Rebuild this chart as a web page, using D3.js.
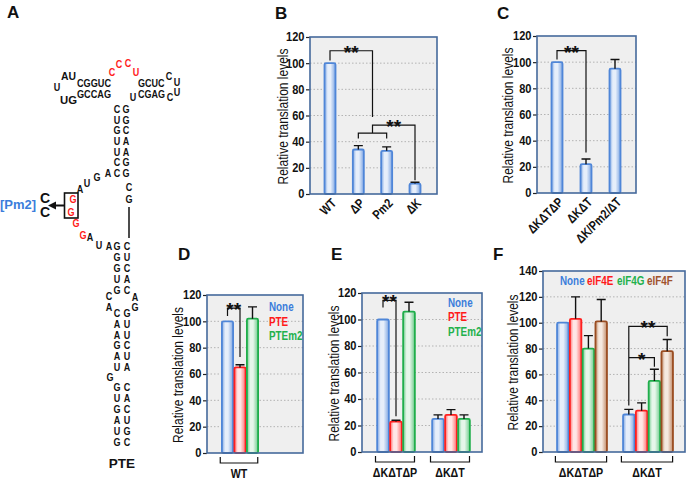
<!DOCTYPE html>
<html><head><meta charset="utf-8">
<script src="https://cdn.jsdelivr.net/npm/d3@7"></script>
<style>
body{margin:0;background:#fff}
svg{display:block}
text{font-family:"Liberation Sans",Arial,sans-serif;fill:#111}
</style>
</head><body>
<svg id="c" width="688" height="481"></svg>
<script>
// ---------------- data ----------------
const bCats = ["WT", "ΔP", "Pm2", "ΔK"];
const bVals = [100, 34, 33, 8];
const bErr  = [0, 3, 3, 1];

const cCats = ["ΔKΔTΔP", "ΔKΔT", "ΔK/Pm2/ΔT"];
const cVals = [100, 22, 95];
const cErr  = [0, 4, 7];

const dGroups = ["WT"];
const dSeries = ["None", "PTE", "PTEm2"];
const dVals = [[100, 65, 102]];
const dErr  = [[0, 2, 9]];

const eGroups = ["ΔKΔTΔP", "ΔKΔT"];
const eSeries = ["None", "PTE", "PTEm2"];
const eVals = [[100, 23, 106], [25, 28, 25]];
const eErr  = [[0, 1, 7], [3, 4, 3]];

const fGroups = ["ΔKΔTΔP", "ΔKΔT"];
const fSeries = ["None", "eIF4E", "eIF4G", "eIF4F"];
const fVals = [[100, 103, 80, 101], [29, 32, 55, 78]];
const fErr  = [[0, 17, 10, 17], [4, 6, 9, 9]];

const ticks120 = [0, 20, 40, 60, 80, 100, 120];
const ticks140 = [0, 20, 40, 60, 80, 100, 120, 140];
const yTitle = "Relative translation levels";

// ---------------- styles ----------------
const pal = {
  blue:  {stroke:"#4f86d8", edge:"#7ea6e3", mid:"#e6eefa", text:"#3b7ddb"},
  red:   {stroke:"#ff1f1f", edge:"#ff6f6f", mid:"#ffe6e6", text:"#ff1a1a"},
  green: {stroke:"#1fae4b", edge:"#6fcb8c", mid:"#e6f6ea", text:"#22b14c"},
  brown: {stroke:"#9a4d22", edge:"#c08a68", mid:"#f5e9e0", text:"#a0522d"}
};
const seriesCol = {None:"blue", PTE:"red", PTEm2:"green", eIF4E:"red", eIF4G:"green", eIF4F:"brown"};

const svg = d3.select("#c");
const defs = svg.append("defs");
Object.entries(pal).forEach(([k,c])=>{
  const lg = defs.append("linearGradient").attr("id","g_"+k).attr("x1",0).attr("x2",1).attr("y1",0).attr("y2",0);
  [[0,c.edge],[0.3,c.mid],[0.55,c.mid],[1,c.edge]].forEach(([o,col])=>lg.append("stop").attr("offset",o).attr("stop-color",col));
});

function label(x,y,t){
  svg.append("text").attr("x",x).attr("y",y).attr("font-size",17).attr("font-weight","bold").text(t);
}

function frame(o){
  const y = d3.scaleLinear().domain([0,o.max]).range([o.y0,o.yTop]);
  const g = svg.append("g");
  g.append("rect").attr("x",o.x0).attr("y",o.yTop).attr("width",o.x1-o.x0).attr("height",o.y0-o.yTop).attr("fill","#efefef");
  g.selectAll("line.grid").data(o.ticks.filter(t=>t>0&&t<o.max)).join("line")
    .attr("x1",o.x0).attr("x2",o.x1).attr("y1",d=>y(d)).attr("y2",d=>y(d))
    .attr("stroke","#b3b3b3").attr("stroke-width",1).attr("stroke-dasharray","1.5,2");
  const ax = g.append("g").attr("transform",`translate(${o.x0},0)`)
    .call(d3.axisLeft(y).tickValues(o.ticks).tickSize(4).tickPadding(1.5));
  ax.select(".domain").remove();
  ax.selectAll(".tick line").attr("stroke","#222").attr("stroke-width",1.2);
  ax.selectAll(".tick text").attr("font-size",12).attr("font-weight","bold").attr("fill","#111")
    .attr("class","t").style("font-family","'Liberation Sans',Arial,sans-serif");
  svg.append("text").attr("class","yt").attr("transform",`translate(${o.labelX},${(o.y0+o.yTop)/2 + 1}) rotate(-90)`)
    .attr("text-anchor","middle").attr("dominant-baseline","central").attr("font-size",14).text(yTitle);
  return {g,y};
}
function border(o){
  svg.append("rect").attr("x",o.x0).attr("y",o.yTop).attr("width",o.x1-o.x0).attr("height",o.y0-o.yTop)
    .attr("fill","none").attr("stroke","#45699c").attr("stroke-width",1.6);
}
function bar(g,y,cx,w,v,e,col,y0){
  const c = pal[col];
  g.append("rect").attr("x",cx-w/2).attr("y",y(v)).attr("width",w).attr("height",y0-y(v))
    .attr("rx",1.5).attr("fill",`url(#g_${col})`).attr("stroke",c.stroke).attr("stroke-width",1.8);
  if(e>0){
    g.append("path").attr("d",`M${cx},${y(v)}V${y(v+e)}M${cx-4.5},${y(v+e)}H${cx+4.5}`)
      .attr("stroke","#111").attr("stroke-width",1.4).attr("fill","none");
  }
}
function bracket(d){
  svg.append("path").attr("d",d).attr("fill","none").attr("stroke","#111").attr("stroke-width",1.2);
}
function stars(x,ypx,s){
  svg.append("text").attr("x",x).attr("y",ypx+8).attr("text-anchor","middle").attr("font-size",19)
    .attr("font-weight","bold").text(s);
}

// ---------------- Panel B ----------------
label(275,19,"B");
const oB = {x0:310,x1:437,yTop:37,y0:194,max:120,ticks:ticks120,labelX:283};
const fB = frame(oB);
const xB = d3.scalePoint().domain(bCats).range([330,415]);
bCats.forEach((c,i)=>bar(fB.g,fB.y,xB(c),11,bVals[i],bErr[i],"blue",oB.y0));
border(oB);
bCats.forEach(c=>{
  svg.append("text").attr("class","n").attr("text-anchor","end").attr("font-size",13).attr("font-weight","bold")
    .attr("transform",`translate(${xB(c)+7},${oB.y0+10}) rotate(-45)`).text(c);
});
{
  const y=fB.y, mid=(xB("ΔP")+xB("Pm2"))/2;
  bracket(`M${xB("WT")},${y(102)}V${y(109.5)}H${mid}V${y(58.8)}`);
  bracket(`M${xB("ΔP")},${y(42.5)}V${y(46.6)}H${xB("Pm2")}V${y(42.5)}M${mid},${y(46.6)}V${y(52.7)}H${xB("ΔK")}V${y(10.5)}`);
  stars((xB("WT")+mid)/2,y(109.5),"**");
  stars((mid+xB("ΔK"))/2,y(52.7),"**");
}

// ---------------- Panel C ----------------
label(497,19,"C");
const oC = {x0:537,x1:636,yTop:36,y0:193,max:120,ticks:ticks120,labelX:508};
const fC = frame(oC);
const xC = d3.scalePoint().domain(cCats).range([557,615]);
cCats.forEach((c,i)=>bar(fC.g,fC.y,xC(c),11,cVals[i],cErr[i],"blue",oC.y0));
border(oC);
cCats.forEach(c=>{
  svg.append("text").attr("class","n").attr("text-anchor","end").attr("font-size",13).attr("font-weight","bold")
    .attr("transform",`translate(${xC(c)+7},${oC.y0+10}) rotate(-45)`).text(c);
});
{
  const y=fC.y;
  bracket(`M${xC("ΔKΔTΔP")},${y(102)}V${y(108.8)}H${xC("ΔKΔT")}V${y(31)}`);
  stars((xC("ΔKΔTΔP")+xC("ΔKΔT"))/2,y(108.8),"**");
}

// ---------------- grouped panels ----------------
function grouped(o,groups,series,vals,errs,gRange,step){
  const f = frame(o);
  const xg = d3.scalePoint().domain(groups).range(gRange);
  const xs = d3.scaleBand().domain(series).range([-step*series.length/2, step*series.length/2]);
  groups.forEach((gname,gi)=>{
    series.forEach((s,si)=>{
      const cx = xg(gname)+xs(s)+xs.bandwidth()/2;
      bar(f.g,f.y,cx,step-1.3,vals[gi][si],errs[gi][si],seriesCol[s],o.y0);
    });
  });
  border(o);
  groups.forEach(gname=>{
    const a = xg(gname)+xs.range()[0]-1, b = xg(gname)+xs.range()[1]-1;
    bracket(`M${a},${o.y0+4}V${o.y0+10}H${b}V${o.y0+4}`);
    svg.append("text").attr("class","n").attr("x",(a+b)/2).attr("y",o.y0+20).attr("text-anchor","middle")
      .attr("dominant-baseline","central").attr("font-size",13).attr("font-weight","bold").text(gname);
  });
  const cx = (g,s)=>xg(g)+xs(s)+xs.bandwidth()/2;
  return {f,cx};
}
function legendCol(x,y0,dy,series){
  series.forEach((s,i)=>svg.append("text").attr("class","n").attr("x",x).attr("y",y0+i*dy).attr("dominant-baseline","central")
    .attr("font-size",12).attr("font-weight","bold").style("fill",pal[seriesCol[s]].text).text(s));
}

// Panel D
label(178,260,"D");
const oD = {x0:207,x1:303,yTop:295,y0:453,max:120,ticks:ticks120,labelX:178};
const D = grouped(oD,dGroups,dSeries,dVals,dErr,[240,240],12.5);
legendCol(269,307,14.5,dSeries);
{
  const y=D.f.y, a=D.cx("WT","None"), b=D.cx("WT","PTE");
  bracket(`M${a},${y(104)}V${y(110)}H${b}V${y(73)}`);
  stars((a+b)/2,y(110),"**");
}

// Panel E
label(331,260,"E");
const oE = {x0:362,x1:482,yTop:293,y0:452,max:120,ticks:ticks120,labelX:334};
const E = grouped(oE,eGroups,eSeries,eVals,eErr,[396,451],13);
legendCol(448,302.5,14.5,eSeries);
{
  const y=E.f.y, a=E.cx("ΔKΔTΔP","None"), b=E.cx("ΔKΔTΔP","PTE");
  bracket(`M${a},${y(109)}V${y(114.5)}H${b}V${y(27)}`);
  stars((a+b)/2,y(114.5),"**");
}

// Panel F
label(493,260,"F");
const oF = {x0:543,x1:685,yTop:271,y0:452,max:140,ticks:ticks140,labelX:513};
const F = grouped(oF,fGroups,fSeries,fVals,fErr,[582,648],12.8);
[[560,"None"],[587,"eIF4E"],[617,"eIF4G"],[647,"eIF4F"]].forEach(([x,s])=>
  svg.append("text").attr("class","n").attr("x",x).attr("y",281).attr("dominant-baseline","central")
    .attr("font-size",12).attr("font-weight","bold").style("fill",pal[seriesCol[s]].text).text(s));
{
  const y=F.f.y, a=F.cx("ΔKΔT","None"), b=F.cx("ΔKΔT","eIF4G"), c=F.cx("ΔKΔT","eIF4F");
  bracket(`M${a},${y(36)}V${y(97.2)}H${c}V${y(89.5)}M${a},${y(73)}H${b}V${y(66)}`);
  stars((a+c)/2,y(97.2),"**");
  stars((a+b)/2,y(73),"*");
}

// ---------------- Panel A (PTE structure) ----------------
label(7,18,"A");
const R="#ff1a1a", K="#111";
// horizontal runs drawn as words: text, left x, centre y, width
const ntWords = [
  ["AU",61,76,15],["UG",60,99.5,17],
  ["CGGUC",77,83,34],["GCCAG",77,94,34],
  ["GCUC",138,83,26.5],["CGAG",138,94,27]
];
// single letters / vertical runs: text, first centre x, y, dx, dy, colour
const ntSegs = [
  ["C",112,72,0,0,R],["C",119,64,0,0,R],["C",128,63,0,0,R],["U",136,72,0,0,R],
  ["U",57,87,0,0,K],
  ["C",169,76,0,0,K],["U",177,82,0,0,K],
  ["U",133,97,0,0,K],["C",170,97,0,0,K],["U",177,92,0,0,K],
  ["CUGUUCC",117,109,0,10.67,K],["GGCAAGG",126,109,0,10.67,K],
  ["A",108,173,0,0,K],["G",97,177,0,0,K],["U",87,183,0,0,K],["A",80,189,0,0,K],
  ["CG",129,187,0,12,K],
  ["GG",73,199,-2,13,R],["GG",76,223,7,11.5,R],
  ["A",90,237,0,0,K],["U",99,245,0,0,K],["A",109,246,0,0,K],
  ["GGGUG",117,246,0,11,K],["CUCAC",127,246,0,11,K],
  ["CA",109,296,0,11,K],["AG",135,296.5,0,10,K],
  ["CAAGAU",117,313,0,10.8,K],["GUUCUA",127,313,0,10.8,K],
  ["G",110,377,0,0,K],
  ["GUGAUG",117,387,0,11,K],["CACUGC",127,387,0,11,K]
];
const gA = svg.append("g");
ntWords.forEach(([t,x,y,w])=>gA.append("text").attr("x",x).attr("y",y).attr("dominant-baseline","central")
  .attr("font-size",11).attr("font-weight","bold").attr("textLength",w).attr("lengthAdjust","spacingAndGlyphs").text(t));
ntSegs.forEach(([t,x,y,dx,dy,col])=>{
  [...t].forEach((ch,i)=>gA.append("text").attr("class","n").attr("x",x+i*dx).attr("y",y+i*dy).attr("text-anchor","middle")
    .attr("dominant-baseline","central").attr("font-size",11).attr("font-weight","bold").style("fill",col).text(ch));
});
gA.append("line").attr("x1",129).attr("x2",129).attr("y1",207).attr("y2",238).attr("stroke","#111").attr("stroke-width",1.5);
gA.append("rect").attr("x",64.5).attr("y",193).attr("width",13.5).attr("height",25).attr("fill","none").attr("stroke","#111").attr("stroke-width",1.6);
gA.append("line").attr("x1",64.5).attr("x2",54).attr("y1",205.5).attr("y2",205.5).attr("stroke","#111").attr("stroke-width",2);
gA.append("path").attr("d","M48,205.5L56,201.5L56,209.5Z").attr("fill","#111");
["C","C"].forEach((ch,i)=>gA.append("text").attr("x",45).attr("y",198+i*14).attr("text-anchor","middle")
  .attr("dominant-baseline","central").attr("font-size",14).attr("font-weight","bold").text(ch));
gA.append("text").attr("x",0).attr("y",204).attr("dominant-baseline","central").attr("font-size",13)
  .attr("font-weight","bold").style("fill","#3b7ddb").text("[Pm2]");
gA.append("text").attr("x",122).attr("y",463).attr("text-anchor","middle").attr("dominant-baseline","central")
  .attr("font-size",13.5).attr("font-weight","bold").text("PTE");

// emulate a condensed (Arial Narrow-like) face: squeeze glyphs horizontally
function squeeze(sel,f){
  svg.selectAll(sel).each(function(){
    const L = this.getComputedTextLength();
    if(L>0){ this.setAttribute("textLength", (L*f).toFixed(2)); this.setAttribute("lengthAdjust","spacingAndGlyphs"); }
  });
}
squeeze("text.n",0.82);
squeeze("text.t",0.92);
svg.selectAll("text.yt").attr("textLength",136).attr("lengthAdjust","spacingAndGlyphs");
</script>
</body></html>
